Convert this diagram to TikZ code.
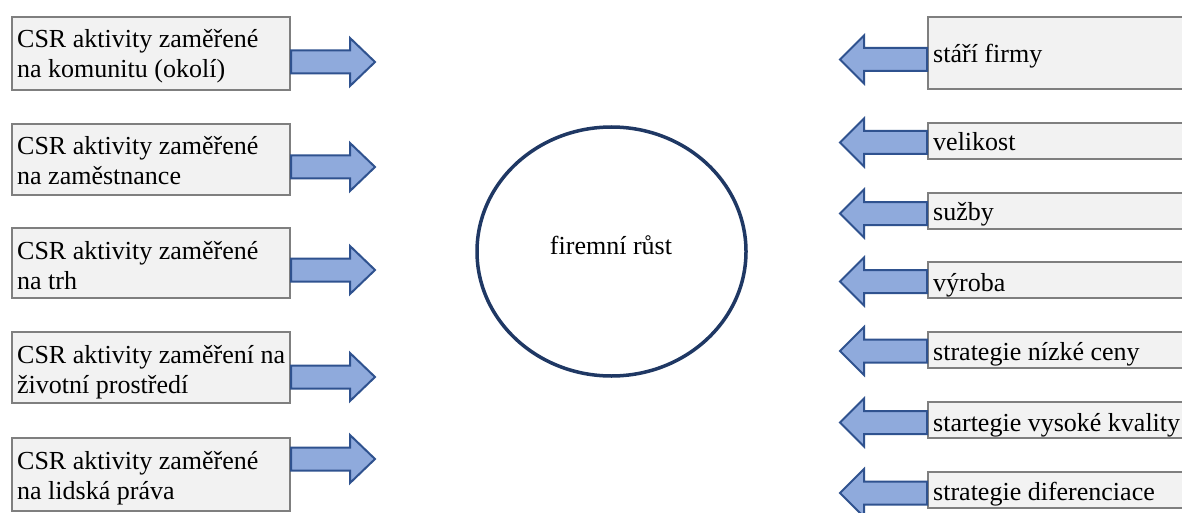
\documentclass[tikz,border=0pt]{standalone}
\usepackage{fontspec}
\setmainfont{Liberation Serif}
\usetikzlibrary{shapes.geometric,calc}
\definecolor{boxfill}{HTML}{F2F2F2}
\definecolor{boxline}{HTML}{7F7F7F}
\definecolor{arrfill}{HTML}{8FAADC}
\definecolor{arrline}{HTML}{2F528F}
\definecolor{circline}{HTML}{1F3864}
\newcommand{\myRarrow}[1]{\draw[barrow] (#1) ++(0,-11.5) -- ++(59,0) -- ++(0,-12.5) -- ++(25,24) -- ++(-25,24) -- ++(0,-12.5) -- ++(-59,0) -- cycle;}
\newcommand{\myLarrow}[1]{\draw[barrow] (#1) ++(0,-11.5) -- ++(-63,0) -- ++(0,-12.5) -- ++(-24,24) -- ++(24,24) -- ++(0,-12.5) -- ++(63,0) -- cycle;}
\begin{document}
\begin{tikzpicture}[x=1pt,y=-1pt,
  cbox/.style={draw=boxline, fill=boxfill, line width=2pt, inner sep=0pt, anchor=north west},
  txt/.style={inner sep=0pt, anchor=base west, font=\fontsize{26}{30}\selectfont},
  barrow/.style={draw=arrline, fill=arrfill, line width=2pt, line join=miter}]
\clip (0,0) rectangle (1182,513);
\fill[white] (0,0) rectangle (1182,513);

% left boxes
\node[cbox, minimum width=278pt, minimum height=73pt] (L1) at (11,16) {};
\node[cbox, minimum width=278pt, minimum height=71pt] (L2) at (11,123) {};
\node[cbox, minimum width=278pt, minimum height=70pt] (L3) at (11,227) {};
\node[cbox, minimum width=278pt, minimum height=71pt] (L4) at (11,331) {};
\node[cbox, minimum width=278pt, minimum height=73pt] (L5) at (11,437) {};

\node[txt] (L1t) at ($(L1.north west)+(6,32)$) {\parbox[t]{272pt}{CSR aktivity zaměřené\\na komunitu (okolí)}};
\node[txt] (L2t) at ($(L2.north west)+(6,32)$) {\parbox[t]{272pt}{CSR aktivity zaměřené\\na zaměstnance}};
\node[txt] (L3t) at ($(L3.north west)+(6,32)$) {\parbox[t]{272pt}{CSR aktivity zaměřené\\na trh}};
\node[txt] (L4t) at ($(L4.north west)+(6,32)$) {\parbox[t]{272pt}{CSR aktivity zaměření na\\životní prostředí}};
\node[txt] (L5t) at ($(L5.north west)+(6,32)$) {\parbox[t]{272pt}{CSR aktivity zaměřené\\na lidská práva}};

\coordinate (aL1) at ($(L1.east)+(0,8.5)$);
\coordinate (aL2) at ($(L2.east)+(0,7.5)$);
\coordinate (aL3) at ($(L3.east)+(0,7)$);
\coordinate (aL4) at ($(L4.east)+(0,9.5)$);
\coordinate (aL5) at ($(L5.east)+(0,-15.5)$);
\myRarrow{aL1}
\myRarrow{aL2}
\myRarrow{aL3}
\myRarrow{aL4}
\myRarrow{aL5}

% right boxes
\node[cbox, minimum width=300pt, minimum height=72pt] (R1) at (927,16) {};
\node[cbox, minimum width=300pt, minimum height=36pt] (R2) at (927,122) {};
\node[cbox, minimum width=300pt, minimum height=36pt] (R3) at (927,192) {};
\node[cbox, minimum width=300pt, minimum height=36pt] (R4) at (927,261) {};
\node[cbox, minimum width=300pt, minimum height=36pt] (R5) at (927,331) {};
\node[cbox, minimum width=300pt, minimum height=36pt] (R6) at (927,401) {};
\node[cbox, minimum width=300pt, minimum height=36pt] (R7) at (927,471) {};

\node[txt] (R1t) at ($(R1.north west)+(6,47)$) {stáří firmy};
\node[txt] (R2t) at ($(R2.north west)+(6,29)$) {velikost};
\node[txt] (R3t) at ($(R3.north west)+(6,28)$) {sužby};
\node[txt] (R4t) at ($(R4.north west)+(6,30)$) {výroba};
\node[txt] (R5t) at ($(R5.north west)+(6,29)$) {strategie nízké ceny};
\node[txt] (R6t) at ($(R6.north west)+(6,30)$) {startegie vysoké kvality};
\node[txt] (R7t) at ($(R7.north west)+(6,29)$) {strategie diferenciace};

\coordinate (aR1) at ($(R1.west)+(0,6.5)$);
\coordinate (aR2) at ($(R2.west)+(0,1.5)$);
\coordinate (aR3) at ($(R3.west)+(0,2.5)$);
\coordinate (aR4) at ($(R4.west)+(0,1.5)$);
\coordinate (aR5) at ($(R5.west)+(0,1)$);
\coordinate (aR6) at ($(R6.west)+(0,2.5)$);
\coordinate (aR7) at ($(R7.west)+(0,3)$);
\myLarrow{aR1}
\myLarrow{aR2}
\myLarrow{aR3}
\myLarrow{aR4}
\myLarrow{aR5}
\myLarrow{aR6}
\myLarrow{aR7}

% centre
\node[draw=circline, line width=3.5pt, ellipse, minimum width=269pt, minimum height=249pt, inner sep=0pt] (C) at (611.5,251.5) {};
\node[inner sep=0pt, anchor=base, font=\fontsize{26}{30}\selectfont] (Ct) at (611,254) {firemní růst};
\end{tikzpicture}
\end{document}
